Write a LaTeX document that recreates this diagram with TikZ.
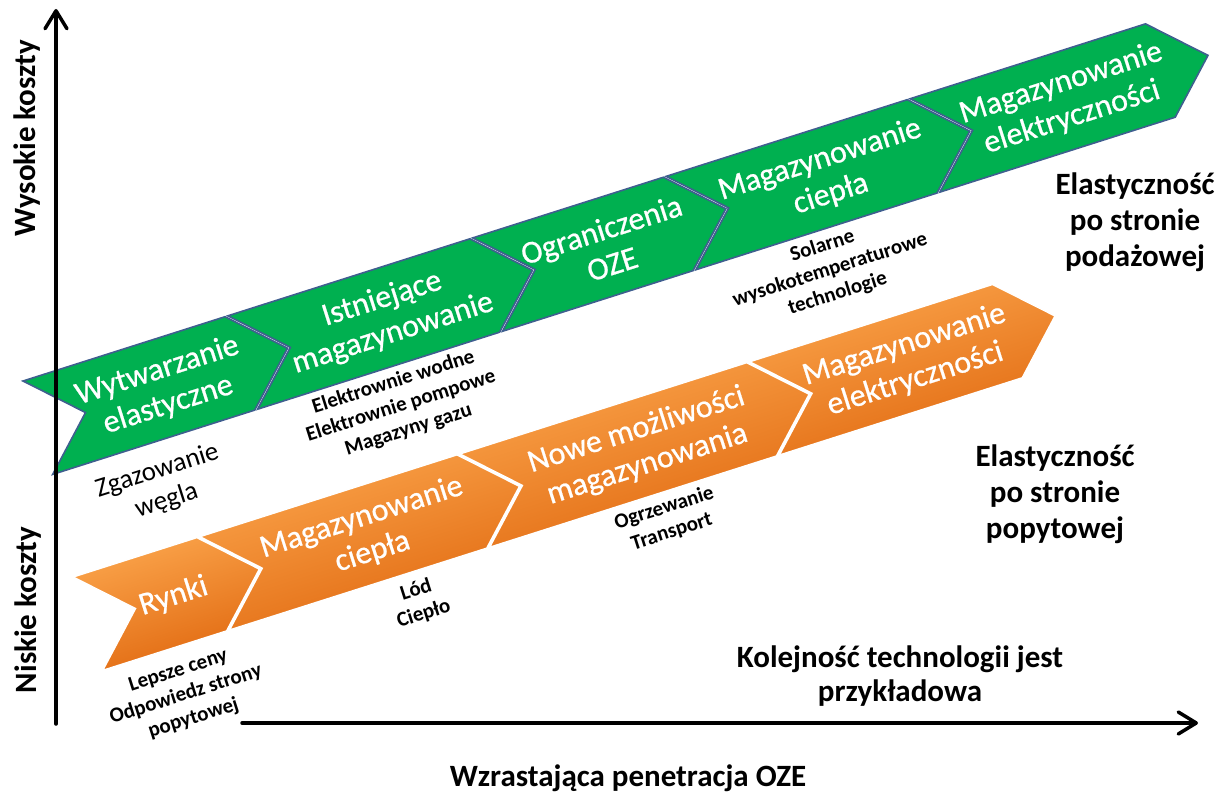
\documentclass[tikz,border=0pt]{standalone}
\usepackage{fontspec}
\setmainfont{Carlito}
\newfontfamily\chevfont[FakeBold=0.7]{Carlito}
\usetikzlibrary{arrows.meta}
\definecolor{grn}{HTML}{00B050}
\definecolor{grnline}{HTML}{3F5F8F}
\definecolor{orlight}{HTML}{FBA54C}
\definecolor{ordark}{HTML}{E0670E}
\newcommand\myfs[2]{\fontsize{#1}{#2}\selectfont}
% #1 style, #2 start, #3 tip, #4 name, #5 text
\newcommand\chevron[5]{%
  \path[#1] (#2,0) -- ({#3-50},0) -- (#3,49) -- ({#3-50},98) -- (#2,98) -- ({#2+50},49) -- cycle;
  \node[chevtext] (#4) at ({(#2+#3)/2},49) {#5};}
\begin{document}
\begin{tikzpicture}[x=1pt,y=-1pt,
  gchev/.style={fill=grn,draw=grnline,line width=1.6pt,line join=miter},
  ochev/.style={top color=orlight,bottom color=ordark,shading angle=17.65,draw=white,line width=1.5pt},
  chevtext/.style={text=white,align=center,font=\chevfont\myfs{32}{36}},
  note/.style={align=center,font=\bfseries\myfs{21}{25},rotate=17.65},
  bigtext/.style={align=center,font=\bfseries\myfs{31}{36}},
  axisline/.style={line width=3.5pt,line cap=round,-{Straight Barb[length=18pt,width=22pt,round]}},
]
\useasboundingbox (0,0) rectangle (1223,799);

% green band
\begin{scope}[shift={(23,381)},rotate=17.65,transform shape]
  \chevron{gchev}{0}{262}{g1}{Wytwarzanie\\elastyczne}
  \chevron{gchev}{215}{519}{g2}{Istniejące\\magazynowanie}
  \chevron{gchev}{472}{722}{g3}{Ograniczenia\\OZE}
  \chevron{gchev}{675}{978}{g4}{Magazynowanie\\ciepła}
  \chevron{gchev}{931}{1228}{g5}{Magazynowanie\\elektryczności}
\end{scope}

% orange band
\begin{scope}[shift={(73,577)},rotate=17.65,transform shape]
  \chevron{ochev}{0}{180}{o1}{Rynki}
  \chevron{ochev}{133}{453}{o2}{Magazynowanie\\ciepła}
  \chevron{ochev}{406}{757}{o3}{Nowe możliwości\\magazynowania}
  \chevron{ochev}{710}{1015}{o4}{Magazynowanie\\elektryczności}
\end{scope}

% notes under chevrons
\node[note] (n1) at (401,406) {Elektrownie wodne\\Elektrownie pompowe\\Magazyny gazu};
\node[note] (n2) at (830,270) {Solarne\\wysokotemperaturowe\\technologie};
\node[note,font=\myfs{27}{31}] (n3) at (162,486) {Zgazowanie\\węgla};
\node[note] (n4) at (668,520) {Ogrzewanie\\Transport};
\node[note] (n5) at (420,602) {Lód\\Ciepło};
\node[note] (n6) at (186,695) {Lepsze ceny\\Odpowiedz strony\\popytowej};

% right texts
\node[bigtext] (s1) at (1135,222) {Elastyczność\\po stronie\\podażowej};
\node[bigtext] (s2) at (1055,494) {Elastyczność\\po stronie\\popytowej};
\node[bigtext,font=\bfseries\myfs{31}{34}] (k1) at (900,676) {Kolejność technologii jest\\przykładowa};

% axes
\coordinate (yb) at (56,724);
\coordinate (yt) at (56,9);
\coordinate (xb) at (242,723);
\coordinate (xt) at (1198,723);
\draw[axisline] (yb) -- (yt);
\draw[axisline] (xb) -- (xt);

\node[bigtext,rotate=90] (ya) at (27,138) {Wysokie koszty};
\node[bigtext,rotate=90] (yn) at (28,610) {Niskie koszty};
\node[bigtext] (xa) at (628,778) {Wzrastająca penetracja OZE};
\end{tikzpicture}
\end{document}
